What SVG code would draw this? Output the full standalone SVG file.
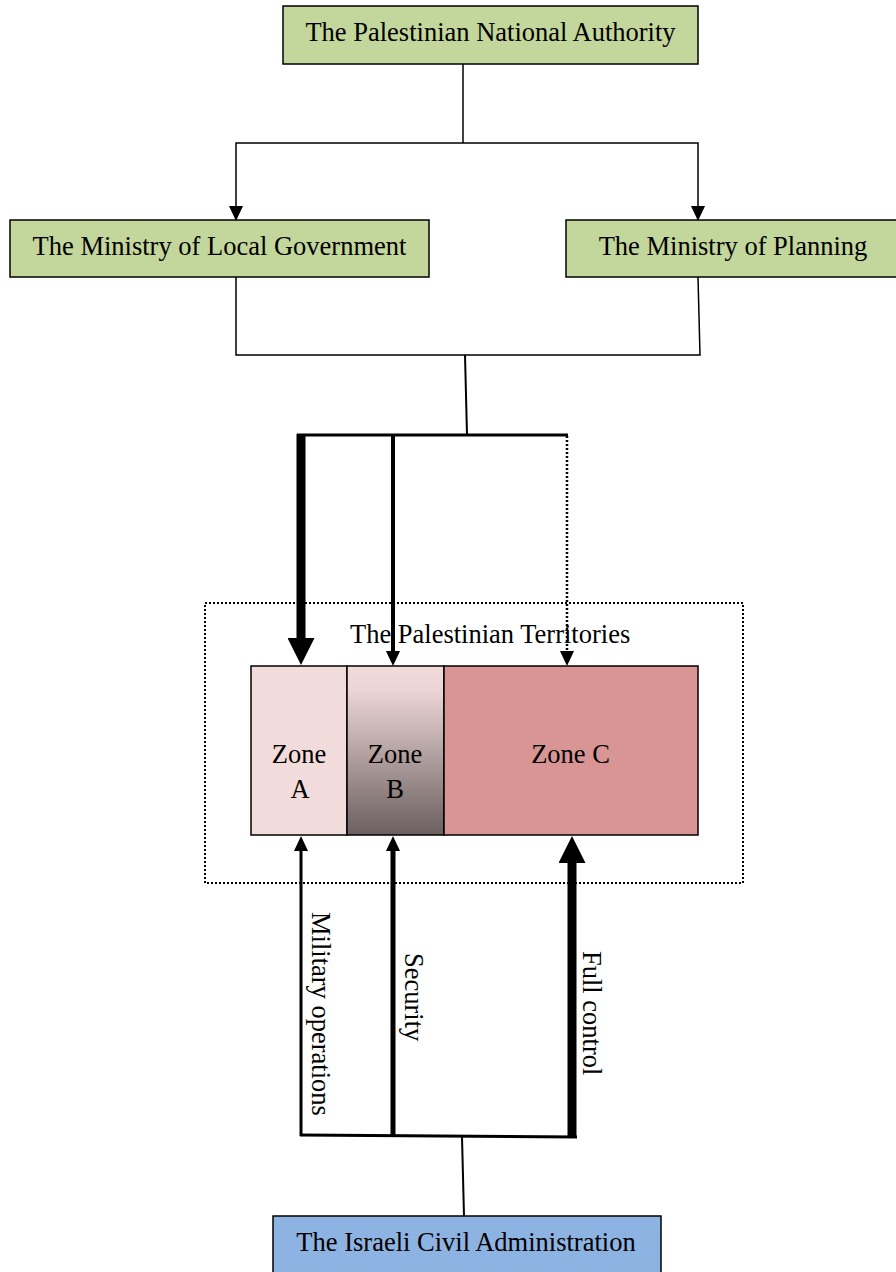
<svg xmlns="http://www.w3.org/2000/svg" width="896" height="1272" viewBox="0 0 896 1272">
<style>
.t{font-family:"Liberation Serif","Times New Roman",serif;font-size:26.5px;fill:#000}
.box{stroke:#000;stroke-width:1.5}
.green{fill:#C3D69B}
.blue{fill:#8DB3E2}
.ln{fill:none;stroke:#000;stroke-linecap:butt}
</style>
<defs>
<marker id="hs" markerUnits="userSpaceOnUse" markerWidth="15" markerHeight="14" viewBox="0 0 15 14" refX="0" refY="7" orient="auto"><path d="M0,0 L15,7 L0,14 z" fill="#000"/></marker>
<marker id="hl" markerUnits="userSpaceOnUse" markerWidth="27" markerHeight="27" viewBox="0 0 27 27" refX="0" refY="13.5" orient="auto"><path d="M0,0 L27,13.5 L0,27 z" fill="#000"/></marker>
<linearGradient id="gB" x1="0" y1="0" x2="0" y2="1">
<stop offset="0" stop-color="#F2DCDB"/>
<stop offset="0.15" stop-color="#EBD5D4"/>
<stop offset="1" stop-color="#6B5F5F"/>
</linearGradient>
</defs>
<rect width="896" height="1272" fill="#fff"/>

<g id="pna"><rect class="box green" x="283" y="6" width="415" height="58"/><text class="t" x="490.5" y="41" text-anchor="middle">The Palestinian National Authority</text></g>
<g id="mlg"><rect class="box green" x="10" y="220" width="419" height="57"/><text class="t" x="219.5" y="255" text-anchor="middle">The Ministry of Local Government</text></g>
<g id="mop"><rect class="box green" x="566" y="220" width="334" height="57"/><text class="t" x="733" y="255" text-anchor="middle">The Ministry of Planning</text></g>

<g id="territories"><rect x="205" y="603" width="538" height="280" fill="none" stroke="#000" stroke-width="2" stroke-dasharray="2,2"/><text class="t" x="350" y="643">The Palestinian Territories</text></g>
<g id="zoneA"><rect class="box" x="251" y="666" width="96" height="169" fill="#F2DCDB"/><text class="t" x="299" y="763" text-anchor="middle">Zone</text><text class="t" x="300" y="798" text-anchor="middle">A</text></g>
<g id="zoneB"><rect class="box" x="347" y="666" width="97" height="169" fill="url(#gB)"/><text class="t" x="395" y="763" text-anchor="middle">Zone</text><text class="t" x="395" y="798" text-anchor="middle">B</text></g>
<g id="zoneC"><rect class="box" x="444" y="666" width="254" height="169" fill="#D99594"/><text class="t" x="570.5" y="763" text-anchor="middle">Zone C</text></g>

<g id="ica"><rect class="box blue" x="273" y="1216" width="388" height="70"/><text class="t" x="466" y="1251" text-anchor="middle">The Israeli Civil Administration</text></g>

<g id="connectors">
<line class="ln" x1="463" y1="64" x2="463" y2="143" stroke-width="1.5"/>
<polyline class="ln" points="236,205 236,143 698,143 698,205" stroke-width="1.5"/>
<line class="ln" x1="236" y1="205" x2="236" y2="206" stroke-width="1.5" marker-end="url(#hs)"/>
<line class="ln" x1="698" y1="205" x2="698" y2="206" stroke-width="1.5" marker-end="url(#hs)"/>
<polyline class="ln" points="236,277 236,355 700,355 698,277" stroke-width="1.5"/>
<line class="ln" x1="465" y1="355" x2="467" y2="435" stroke-width="2"/>
<line class="ln" x1="297" y1="435" x2="568" y2="435" stroke-width="3"/>
<line class="ln" x1="301" y1="434" x2="301" y2="638" stroke-width="9" marker-end="url(#hl)"/>
<line class="ln" x1="393" y1="434" x2="393" y2="651" stroke-width="4" marker-end="url(#hs)"/>
<line class="ln" x1="567" y1="436" x2="567" y2="651" stroke-width="2.5" stroke-dasharray="2,2" marker-end="url(#hs)"/>
<line class="ln" x1="301" y1="1136" x2="301" y2="851" stroke-width="3" marker-end="url(#hs)"/>
<line class="ln" x1="393" y1="1136" x2="393" y2="851" stroke-width="5" marker-end="url(#hs)"/>
<line class="ln" x1="572" y1="1138" x2="572" y2="863" stroke-width="9" marker-end="url(#hl)"/>
<line class="ln" x1="300" y1="1135" x2="577" y2="1137" stroke-width="3"/>
<line class="ln" x1="462" y1="1137" x2="464" y2="1216" stroke-width="2"/>
<text class="t" transform="translate(312,912) rotate(90)">Military operations</text>
<text class="t" transform="translate(405,953) rotate(90)">Security</text>
<text class="t" transform="translate(583,951) rotate(90)">Full control</text>
</g>
</svg>
